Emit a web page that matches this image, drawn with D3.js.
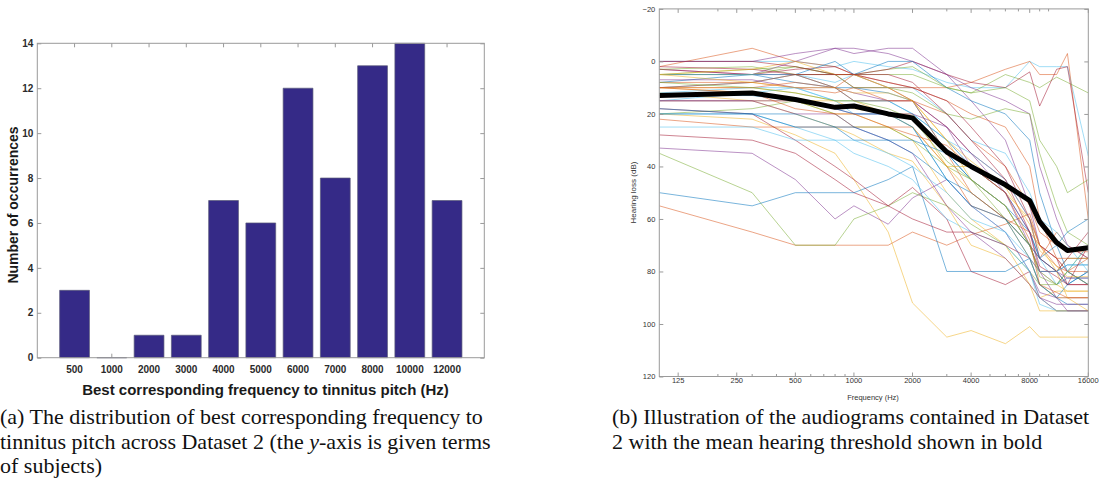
<!DOCTYPE html>
<html>
<head>
<meta charset="UTF-8">
<title>Tinnitus pitch and audiograms</title>
<script src="https://cdn.jsdelivr.net/npm/d3@7"></script>
<style>
  body { margin: 0; background: #fff; }
  .sans { font-family: "Liberation Sans", Arial, sans-serif; }
  .serif { font-family: "Liberation Serif", "Times New Roman", serif; }
</style>
</head>
<body>
<svg id="fig" width="1107" height="486"></svg>
<script>
// ---- (a) best corresponding frequency ----
const pitchFreqs = ["500", "1000", "2000", "3000", "4000", "5000", "6000", "7000", "8000", "10000", "12000"];
const pitchCounts = [3, 0, 1, 1, 7, 6, 12, 8, 13, 14, 7];
const countTicks = [0, 2, 4, 6, 8, 10, 12, 14];

// ---- (b) audiograms ----
const audioFreqs = [100, 300, 500, 800, 1000, 1500, 2000, 3000, 4000, 6000, 8000, 9000, 11000, 12500, 16000];
const meanThreshold = [13, 12, 14.5, 17.5, 17, 20, 21.5, 34.5, 40, 47, 53, 61, 69, 72, 71];
const audiograms = [
  [5, 5, 8, 10, 10, 12, 15, 35, 45, 55, 70, 80, 85, 82.5, 82.5],
  [55, 65, 70, 70, 70, 70, 65, 70, 66, 62, 58, 70, 78, 80, 75],
  [20, 22, 28, 35, 45, 65, 92, 105, 102.5, 107.5, 101, 105, 105, 105, 105],
  [33, 35, 45, 60, 55, 62, 52, 45, 55, 65, 80, 88, 90, 90, 90],
  [35, 50, 70, 70, 60, 55, 50, 55, 62, 70, 80, 85, 85, 80, 70],
  [0, 0, 0, 2, 0, 2, 3, 8, 10, 10, 0, 2, 2, 2, 36],
  [28, 30, 35, 45, 50, 55, 48, 60, 80, 85, 80, 90, 95, 95, 95],
  [50, 55, 50, 50, 50, 45, 40, 80, 80, 80, 75, 85, 90, 92.5, 92.5],
  [2, -5, 0, 2, 5, 8, 10, 10, 8, 3, 0, 5, 5, -3, 60],
  [10, 10, 12, 15, 15, 20, 20, 40, 50, 60, 75, 85, 90, 90, 90],
  [3, 5, 0, -5, -3, -5, -5, 5, 15, 30, 55, 70, 75, 80, 85],
  [5, 3, 2, 5, 5, 3, 2, 10, 12, 5, 8, 10, 6, 8, 12],
  [15, 12, 10, 15, 20, 20, 25, 45, 55, 65, 80, 92.5, 95, 95, 95],
  [5, 5, 3, 2, 5, 3, 0, 5, 8, 10, 4, 17, 3, 2, 50],
  [8, 5, 5, 10, 15, 15, 20, 30, 40, 50, 65, 75, 80, 77.5, 77.5],
  [22, 25, 25, 25, 25, 25, 25, 40, 55, 60, 70, 75, 65, 70, 75],
  [12, 15, 15, 20, 20, 25, 30, 50, 60, 70, 85, 90, 87.5, 87.5, 87.5],
  [0, 0, -3, -5, -5, -3, 0, 5, 10, 15, 20, 40, 60, 70, 75],
  [20, 18, 15, 20, 25, 25, 30, 40, 45, 60, 70, 80, 80, 75, 75],
  [20, 20, 25, 30, 35, 40, 45, 60, 65, 70, 80, 90, 95, 95, 95],
  [3, 5, 5, 5, 10, 10, 15, 25, 35, 45, 60, 70, 75, 85, 85],
  [10, 8, 5, 0, 5, 0, 0, 10, 15, 20, 30, 50, 70, 80, 85],
  [10, 8, 10, 12, 10, 15, 15, 20, 30, 40, 55, 65, 70, 72.5, 72.5],
  [15, 15, 20, 25, 28, 35, 38, 55, 70, 75, 85, 95, 95, 95, 95],
  [15, 15, 20, 20, 25, 30, 35, 55, 65, 75, 85, 90, 92.5, 92.5, 92.5],
  [5, 5, 2, 5, 5, 5, 5, 10, 12, 10, 15, 30, 40, 50, 45],
  [5, 5, 5, 8, 5, 10, 10, 20, 30, 35, 50, 60, 65, 70, 80],
  [18, 20, 30, 40, 45, 55, 60, 65, 65, 70, 75, 80, 80, 85, 85],
  [18, 20, 20, 25, 25, 30, 30, 35, 45, 55, 65, 75, 80, 85, 80],
  [8, 8, 5, 10, 5, 10, 10, 15, 20, 25, 40, 60, 75, 80, 80],
  [10, 12, 15, 15, 18, 20, 25, 40, 40, 50, 60, 70, 80, 90, 95],
  [7, 7, 10, 10, 12, 15, 15, 25, 40, 50, 70, 80, 80, 82.5, 82.5],
  [3, 2, 5, 5, 10, 10, 12, 20, 22, 18, 20, 35, 55, 65, 70],
  [12, 10, 10, 15, 15, 15, 20, 30, 35, 45, 60, 75, 85, 80, 70],
  [2, 3, 5, 5, 5, 8, 10, 15, 25, 40, 60, 75, 80, 75, 65],
  [20, 20, 25, 25, 30, 30, 35, 45, 50, 60, 75, 85, 90, 85, 80],
  [10, 10, 8, 10, 15, 15, 15, 35, 50, 60, 65, 70, 75, 75, 75],
  [5, 3, 0, 5, 5, 10, 15, 30, 45, 55, 70, 80, 85, 87.5, 87.5],
  [15, 15, 15, 18, 20, 20, 20, 25, 35, 50, 65, 80, 90, 95, 95],
  [8, 10, 12, 15, 15, 18, 22, 38, 45, 55, 70, 82, 85, 80, 85],
  [25, 25, 30, 30, 30, 35, 40, 50, 60, 65, 75, 80, 80, 77.5, 77.5],
  [0, 0, 2, 5, 5, 5, 8, 20, 30, 45, 65, 78, 82, 85, 70],
  [13, 13, 15, 18, 20, 20, 25, 45, 55, 60, 70, 75, 70, 65, 60],
  [10, 12, 18, 20, 20, 25, 28, 32, 40, 50, 68, 85, 88, 90, 90],
  [5, 8, 10, 10, 12, 12, 15, 30, 38, 48, 62, 72, 78, 82, 82]
];
const freqMajor = [125, 250, 500, 1000, 2000, 4000, 8000, 16000];
const freqMinor = [200, 300, 400, 600, 700, 800, 900, 3000, 5000, 6000, 7000, 9000, 10000];
const lossTicks = [-20, 0, 20, 40, 60, 80, 100, 120];
const lineColors = ["#0072BD", "#D95319", "#EDB120", "#7E2F8E", "#77AC30", "#4DBEEE", "#A2142F"];

const svg = d3.select("#fig");
const axisGrey = "#9a9a9a";
const labelColor = "#2b2b2b";

// ================= panel (a) =================
const pa = { l: 37.3, r: 484.3, t: 43.3, b: 357.7 };
const xA = d3.scaleBand().domain(pitchFreqs).range([pa.l, pa.r]).paddingInner(0.2).paddingOuter(0.6);
const yA = d3.scaleLinear().domain([0, 14]).range([pa.b, pa.t]);

const gA = svg.append("g").attr("class", "sans");

// ticks under the bars
let axB = gA.append("g").attr("transform", "translate(0," + pa.b + ")")
  .call(d3.axisBottom(xA).tickSize(-4).tickSizeOuter(0).tickPadding(8));
let axT = gA.append("g").attr("transform", "translate(0," + pa.t + ")")
  .call(d3.axisTop(xA).tickSize(-4).tickSizeOuter(0).tickFormat(""));
let axL = gA.append("g").attr("transform", "translate(" + pa.l + ",0)")
  .call(d3.axisLeft(yA).tickValues(countTicks).tickSize(-4).tickSizeOuter(0).tickPadding(4));
let axR = gA.append("g").attr("transform", "translate(" + pa.r + ",0)")
  .call(d3.axisRight(yA).tickValues(countTicks).tickSize(-4).tickSizeOuter(0).tickFormat(""));

[axB, axT, axL, axR].forEach(function (a) {
  a.attr("font-family", null);
  a.select(".domain").remove();
  a.selectAll(".tick line").attr("stroke", axisGrey);
  a.selectAll(".tick text").attr("fill", labelColor).attr("font-size", 10)
    .attr("font-weight", "bold");
});

// bars (path so that the zero bar still shows as a line)
gA.append("g").selectAll("path").data(pitchCounts).join("path")
  .attr("d", function (d, i) {
    let x0 = xA(pitchFreqs[i]), w = xA.bandwidth();
    return "M" + x0 + "," + yA(0) + "H" + (x0 + w) + "V" + yA(d) + "H" + x0 + "Z";
  })
  .attr("fill", "#352a87")
  .attr("stroke", "#5a5a7a")
  .attr("stroke-width", 0.7);

gA.append("rect")
  .attr("x", pa.l).attr("y", pa.t)
  .attr("width", pa.r - pa.l).attr("height", pa.b - pa.t)
  .attr("fill", "none").attr("stroke", axisGrey).attr("stroke-width", 1);

gA.append("text")
  .attr("x", 265.5).attr("y", 395)
  .attr("text-anchor", "middle").attr("font-size", 15).attr("font-weight", "bold")
  .attr("fill", "#1a1a1a")
  .text("Best corresponding frequency to tinnitus pitch (Hz)");

gA.append("text")
  .attr("transform", "translate(18,205) rotate(-90)")
  .attr("text-anchor", "middle").attr("font-size", 14).attr("font-weight", "bold")
  .attr("fill", "#1a1a1a")
  .text("Number of occurrences");

// ================= panel (b) =================
const pb = { l: 659.3, r: 1088.3, t: 8.9, b: 376.5 };
const xB = d3.scaleLog().domain([100, 16000]).range([pb.l, pb.r]);
const yB = d3.scaleLinear().domain([-20, 120]).range([pb.t, pb.b]);

const gB = svg.append("g").attr("class", "sans");

svg.append("defs").append("clipPath").attr("id", "clipB")
  .append("rect").attr("x", pb.l).attr("y", pb.t)
  .attr("width", pb.r - pb.l).attr("height", pb.b - pb.t);

const line = d3.line()
  .x(function (d, i) { return xB(audioFreqs[i]); })
  .y(function (d) { return yB(d); });

const gLines = gB.append("g").attr("clip-path", "url(#clipB)");
gLines.selectAll("path.aud").data(audiograms).join("path")
  .attr("class", "aud")
  .attr("d", line)
  .attr("fill", "none")
  .attr("stroke", function (d, i) { return lineColors[i % lineColors.length]; })
  .attr("stroke-width", 0.75)
  .attr("stroke-opacity", 0.7);

gLines.append("path")
  .attr("d", line(meanThreshold))
  .attr("fill", "none")
  .attr("stroke", "#000")
  .attr("stroke-width", 5)
  .attr("stroke-linejoin", "round");

// frequency ticks (inward, top and bottom)
function freqTicks(vals, len) {
  gB.append("g").selectAll("line").data(vals).join("line")
    .attr("x1", function (d) { return xB(d); }).attr("x2", function (d) { return xB(d); })
    .attr("y1", pb.b).attr("y2", pb.b - len)
    .attr("stroke", axisGrey);
  gB.append("g").selectAll("line").data(vals).join("line")
    .attr("x1", function (d) { return xB(d); }).attr("x2", function (d) { return xB(d); })
    .attr("y1", pb.t).attr("y2", pb.t + len)
    .attr("stroke", axisGrey);
}
freqTicks(freqMajor, 4);
freqTicks(freqMinor, 2.5);

gB.append("g").selectAll("text").data(freqMajor).join("text")
  .attr("x", function (d) { return xB(d); }).attr("y", pb.b + 6.5)
  .attr("text-anchor", "middle").attr("font-size", 7.5).attr("fill", "#333")
  .text(function (d) { return d; });

let axBL = gB.append("g").attr("transform", "translate(" + pb.l + ",0)")
  .call(d3.axisLeft(yB).tickValues(lossTicks).tickSize(-4).tickSizeOuter(0).tickPadding(4));
let axBR = gB.append("g").attr("transform", "translate(" + pb.r + ",0)")
  .call(d3.axisRight(yB).tickValues(lossTicks).tickSize(-4).tickSizeOuter(0).tickFormat(""));
[axBL, axBR].forEach(function (a) {
  a.attr("font-family", null);
  a.select(".domain").remove();
  a.selectAll(".tick line").attr("stroke", axisGrey);
  a.selectAll(".tick text").attr("fill", "#333").attr("font-size", 7.5);
});

gB.append("rect")
  .attr("x", pb.l).attr("y", pb.t)
  .attr("width", pb.r - pb.l).attr("height", pb.b - pb.t)
  .attr("fill", "none").attr("stroke", axisGrey).attr("stroke-width", 1);

gB.append("text")
  .attr("x", 873).attr("y", 400)
  .attr("text-anchor", "middle").attr("font-size", 7.5).attr("fill", "#333")
  .text("Frequency (Hz)");

gB.append("text")
  .attr("transform", "translate(636,192.5) rotate(-90)")
  .attr("text-anchor", "middle").attr("font-size", 8).attr("fill", "#333")
  .text("Hearing loss (dB)");

// ================= captions =================
const capA = [
  ["(a) The distribution of best corresponding frequency to"],
  ["tinnitus pitch across Dataset 2 (the ", "y", "-axis is given terms"],
  ["of subjects)"]
];
const capB = [
  ["(b) Illustration of the audiograms contained in Dataset"],
  ["2 with the mean hearing threshold shown in bold"]
];
const capY = [424, 448.5, 473];

function caption(lines, x0) {
  const g = svg.append("g").attr("class", "serif");
  lines.forEach(function (parts, li) {
    let t = g.append("text").attr("x", x0).attr("y", capY[li])
      .attr("font-size", 22).attr("fill", "#111");
    parts.forEach(function (p, pi) {
      let s = t.append("tspan").text(p);
      if (pi === 1) s.attr("font-style", "italic");
    });
  });
  return g;
}
caption(capA, 0);
caption(capB, 612);
</script>
</body>
</html>
